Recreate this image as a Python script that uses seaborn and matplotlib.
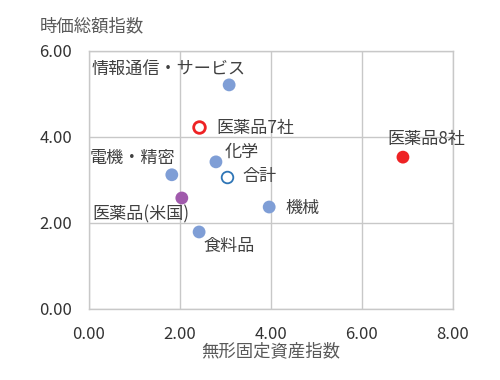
import numpy as np
import pandas as pd
import seaborn as sns
import matplotlib as mat

mat.use("Agg")

import matplotlib.pyplot as plt
from matplotlib.ticker import FormatStrFormatter

# data
names = ["情報通信・サービス", "化学", "電機・精密", "機械", "食料品", "医薬品(米国)", "医薬品8社"]
x_vals = [3.08, 2.79, 1.82, 3.96, 2.42, 2.04, 6.90]
y_vals = [5.21, 3.42, 3.12, 2.37, 1.79, 2.58, 3.53]
kinds = ["業種", "業種", "業種", "業種", "業種", "米国", "8社"]

hollow_names = ["医薬品7社", "合計"]
hollow_x = [2.42, 3.03]
hollow_y = [4.23, 3.07]

x_ticks = [0, 2, 4, 6, 8]
y_ticks = [0, 2, 4, 6]

palette = {"業種": "#7f9ed6", "米国": "#a05aac", "8社": "#ee2224"}
hollow_colors = ["#ee2224", "#2e75b6"]

# label offsets in pixels (dx, dy, ha)
offsets = {
    "情報通信・サービス": (-61, 16, "center"),
    "化学": (9, 10, "left"),
    "電機・精密": (-39, 17, "center"),
    "機械": (16, -1, "left"),
    "食料品": (4, -14, "left"),
    "医薬品(米国)": (-41, -16, "center"),
    "医薬品8社": (23, 18, "center"),
    "医薬品7社": (17, -1, "left"),
    "合計": (16, 1, "left"),
}

sns.set_style("white")
plt.rcParams["font.family"] = ["Noto Sans CJK JP", "DejaVu Sans"]

df = pd.DataFrame({"name": names, "x": x_vals, "y": y_vals, "kind": kinds})
df_h = pd.DataFrame({"name": hollow_names, "x": hollow_x, "y": hollow_y})

fig = plt.figure(figsize=(5, 3.8), dpi=100)
ax = fig.add_axes([0.178, 0.187, 0.728, 0.679])

sns.scatterplot(data=df, x="x", y="y", hue="kind", palette=palette,
                s=85, linewidth=0, legend=False, ax=ax, zorder=3)
for i, row in df_h.iterrows():
    ax.scatter(row["x"], row["y"], s=70, facecolors="white",
               edgecolors=hollow_colors[i], linewidths=2 if i == 0 else 1.3, zorder=3)

for name, xv, yv in list(zip(names, x_vals, y_vals)) + list(zip(hollow_names, hollow_x, hollow_y)):
    dx, dy, ha = offsets[name]
    ax.annotate(name, (xv, yv), xytext=(dx, dy), textcoords="offset pixels",
                ha=ha, va="center", fontsize=12.3, color="#404040")

ax.set_xlim(0, 8)
ax.set_ylim(0, 6)
ax.set_xticks(x_ticks)
ax.set_yticks(y_ticks)
ax.xaxis.set_major_formatter(FormatStrFormatter("%.2f"))
ax.yaxis.set_major_formatter(FormatStrFormatter("%.2f"))
ax.tick_params(length=0, labelsize=12, labelcolor="#333333")
ax.tick_params(axis="x", pad=12)
ax.tick_params(axis="y", pad=12)
ax.grid(True, color="#c8c8c8", linewidth=1)
for sp in ax.spines.values():
    sp.set_color("#c8c8c8")
    sp.set_linewidth(1)

ax.set_xlabel("無形固定資産指数", fontsize=12.5, color="#595959", labelpad=0)
ax.set_ylabel("時価総額指数", fontsize=12.5, color="#595959", rotation=0, ha="center", va="center")
ax.yaxis.set_label_coords(0.008, 1.095)

fig.savefig("out.png", dpi=100)
